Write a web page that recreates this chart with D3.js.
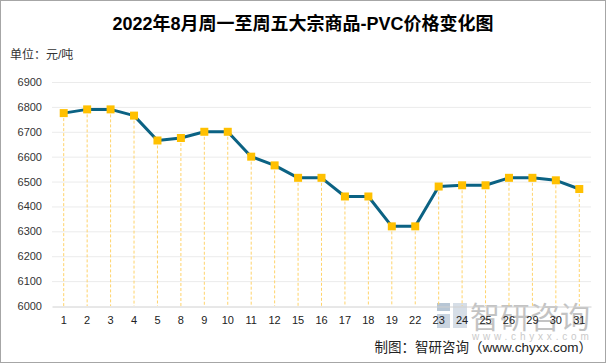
<!DOCTYPE html>
<html>
<head>
<meta charset="utf-8">
<script src="https://cdn.jsdelivr.net/npm/d3@7"></script>
<style>
  body { margin: 0; background: #fff; }
  svg text { font-family: "Liberation Sans", "Noto Sans CJK SC", sans-serif; }
</style>
</head>
<body>
<div id="chart"></div>
<script>
const days = ["1", "2", "3", "4", "5", "8", "9", "10", "11", "12", "15", "16", "17", "18", "19", "22", "23", "24", "25", "26", "29", "30", "31"];
const prices = [6775, 6790, 6790, 6765, 6665, 6675, 6700, 6700, 6600, 6565, 6515, 6515, 6440, 6440, 6320, 6320, 6480, 6485, 6485, 6515, 6515, 6505, 6470];
const yTicks = [6000, 6100, 6200, 6300, 6400, 6500, 6600, 6700, 6800, 6900];

let w = 606;
let h = 363;
let marginTop = 82;
let marginBottom = 57;
let marginLeft = 52;
let marginRight = 15;

const dataset = days.map(function (d, i) {
  return { day: d, price: prices[i] };
});

let x = d3
  .scaleBand()
  .domain(days)
  .range([marginLeft, w - marginRight]);

let y = d3
  .scaleLinear()
  .domain([6000, 6900])
  .range([h - marginBottom, marginTop]);

let svg = d3
  .select("#chart")
  .append("svg")
  .attr("width", w)
  .attr("height", h);

svg
  .append("rect")
  .attr("x", 0.5)
  .attr("y", 0.5)
  .attr("width", w - 1)
  .attr("height", h - 1)
  .attr("fill", "#fff")
  .attr("stroke", "#a6a6a6");

// gridlines
svg
  .append("g")
  .selectAll("line")
  .data(yTicks.slice(1))
  .enter()
  .append("line")
  .attr("x1", marginLeft)
  .attr("x2", w - marginRight)
  .attr("y1", function (d) { return y(d) + 0.5; })
  .attr("y2", function (d) { return y(d) + 0.5; })
  .attr("stroke", "#ebebeb");

// watermark
let wm = svg.append("g").attr("opacity", 0.75);
wm.append("rect").attr("x", 437).attr("y", 303).attr("width", 13).attr("height", 8).attr("fill", "#9fb3c8");
wm.append("rect").attr("x", 437).attr("y", 314).attr("width", 13).attr("height", 14).attr("fill", "#b8c6d6");
wm.append("rect").attr("x", 453).attr("y", 303).attr("width", 14).attr("height", 25).attr("fill", "#c9d4df");
wm.append("text")
  .attr("x", 470)
  .attr("y", 328)
  .attr("font-size", 30)
  .attr("fill", "#b0b0b0")
  .attr("font-family", "Noto Sans CJK SC")
  .text("智研咨询");
wm.append("text")
  .attr("x", 472)
  .attr("y", 340)
  .attr("font-size", 10)
  .attr("letter-spacing", 3.8)
  .attr("fill", "#b8b8b8")
  .text("www.chyxx.com");

// axes
let yAxis = d3.axisLeft(y).tickValues(yTicks).tickFormat(d3.format("d")).tickSize(0).tickPadding(10);
svg
  .append("g")
  .attr("transform", `translate(${marginLeft},0)`)
  .call(yAxis)
  .call(function (g) { g.select(".domain").remove(); })
  .selectAll("text")
  .attr("font-size", 11)
  .attr("fill", "#333");

let xAxis = d3.axisBottom(x).tickSize(0).tickPadding(10);
svg
  .append("g")
  .attr("transform", `translate(0,${y(6000) + 0.5})`)
  .call(xAxis)
  .call(function (g) { g.select(".domain").attr("stroke", "#d0d0d0"); })
  .selectAll("text")
  .attr("font-size", 11)
  .attr("fill", "#222");

let cx = function (d) { return x(d.day) + x.bandwidth() / 2; };

// drop lines
svg
  .append("g")
  .selectAll("line")
  .data(dataset)
  .enter()
  .append("line")
  .attr("x1", cx)
  .attr("x2", cx)
  .attr("y1", function (d) { return y(d.price); })
  .attr("y2", y(6000))
  .attr("stroke", "#ffd36b")
  .attr("stroke-dasharray", "3,2");

let line = d3
  .line()
  .x(cx)
  .y(function (d) { return y(d.price); });

svg
  .append("path")
  .datum(dataset)
  .attr("d", line)
  .attr("fill", "none")
  .attr("stroke", "#0b6283")
  .attr("stroke-width", 3)
  .attr("stroke-linejoin", "round");

svg
  .append("g")
  .selectAll("rect")
  .data(dataset)
  .enter()
  .append("rect")
  .attr("x", function (d) { return cx(d) - 4; })
  .attr("y", function (d) { return y(d.price) - 4; })
  .attr("width", 8)
  .attr("height", 8)
  .attr("fill", "#ffc000");

svg
  .append("text")
  .attr("x", w / 2)
  .attr("y", 30)
  .attr("text-anchor", "middle")
  .attr("font-size", 18)
  .attr("font-weight", "bold")
  .attr("fill", "#000")
  .text("2022年8月周一至周五大宗商品-PVC价格变化图");

svg
  .append("text")
  .attr("x", 10)
  .attr("y", 59)
  .attr("font-size", 12)
  .attr("fill", "#333")
  .text("单位：元/吨");

svg
  .append("text")
  .attr("x", 592)
  .attr("y", 352)
  .attr("text-anchor", "end")
  .attr("font-size", 13.5)
  .attr("fill", "#222")
  .text("制图：智研咨询（www.chyxx.com）");
</script>
</body>
</html>
